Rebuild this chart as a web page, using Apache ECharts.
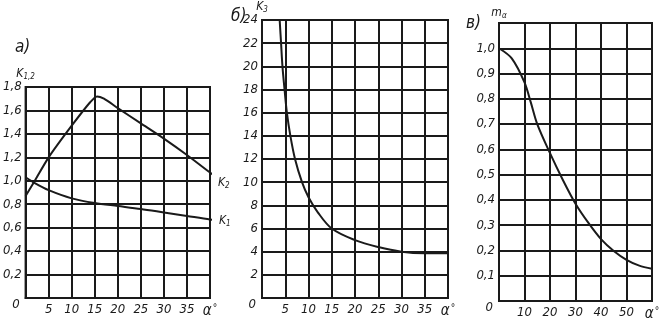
<!DOCTYPE html>
<html><head><meta charset="utf-8">
<script src="https://cdn.jsdelivr.net/npm/echarts@6/dist/echarts.min.js"></script>
<style>html,body{margin:0;padding:0;background:#fff}#c{width:668px;height:326px}</style>
</head><body><div id="c"></div>
<script>
// Panel а): K1 and K2 versus α°
const k1Data = [[0,1.03],[2,0.98],[5,0.92],[10,0.85],[15,0.81],[20,0.785],[25,0.76],[30,0.73],[35,0.70],[40,0.67],[41.5,0.665]];
const k2Data = [[0,0.87],[2,1.0],[5,1.2],[10,1.47],[14,1.67],[15.5,1.72],[17,1.7],[20,1.62],[25,1.49],[30,1.36],[35,1.22],[40,1.07],[41.5,1.03]];
// Panel б): K3 versus α°
const k3Data = [[3.8,24],[4.1,22],[4.4,20],[4.85,18],[5.35,16],[6.1,14],[7.1,12],[8.6,10],[10,8.7],[12,7.4],[15,6.0],[20,5.0],[25,4.4],[30,4.0],[35,3.87],[40,3.87]];
// Panel в): mα versus α°
const mData = [[0,1.0],[5,0.96],[10,0.865],[12.5,0.785],[15,0.70],[20,0.585],[25,0.48],[30,0.385],[35,0.31],[40,0.245],[45,0.198],[50,0.163],[55,0.14],[60,0.128]];
const panelTitles = ['а)', 'б)', 'в)'];

const FONT = "'Liberation Sans Narrow','DejaVu Sans Condensed','Liberation Sans',sans-serif";
const INK = '#1a1a1a';
const lab = {fontFamily: FONT, fontStyle: 'italic', fontSize: 13, color: INK};
const rich = {
  a: {fontFamily: FONT, fontStyle: 'italic', fontSize: 15, color: INK},
  d: {fontFamily: FONT, fontSize: 10, color: INK, verticalAlign: 'top', padding: [0,0,6,1]},
  z: {fontFamily: FONT, fontStyle: 'italic', fontSize: 13, color: INK, padding: [14, 2, 0, 0]},
  k: {fontFamily: FONT, fontStyle: 'italic', fontSize: 12, color: INK},
  s: {fontFamily: FONT, fontStyle: 'italic', fontSize: 8, color: INK, padding: [6,0,0,0]}
};
const line = {lineStyle: {color: INK, width: 2}};

function xAxis(i, max, step) {
  return {
    gridIndex: i, type: 'value', min: 0, max: max, interval: step,
    axisLine: {show: true, onZero: false, lineStyle: {color: INK, width: 2}},
    axisTick: {show: false},
    splitLine: {show: true, lineStyle: {color: INK, width: 2}},
    axisLabel: Object.assign({}, lab, {margin: 5, showMaxLabel: true, showMinLabel: true, hideOverlap: false, rich: rich,
      formatter: v => v === 0 ? '' : (v === max ? '{a|α}{d|°}' : String(v))})
  };
}
function yAxis(i, max, step, fmt, name) {
  return {
    gridIndex: i, type: 'value', min: 0, max: max, interval: step,
    name: name, nameLocation: 'end', nameGap: 3,
    nameTextStyle: {rich: rich, align: 'center'},
    axisLine: {show: true, onZero: false, lineStyle: {color: INK, width: 2}},
    axisTick: {show: false},
    splitLine: {show: true, lineStyle: {color: INK, width: 2}},
    axisLabel: Object.assign({}, lab, {margin: 4, showMaxLabel: true, showMinLabel: true, hideOverlap: false, rich: rich,
      formatter: v => Math.abs(v) < 1e-9 ? '{z|0}' : fmt(v)})
  };
}
const comma = v => v.toFixed(1).replace('.', ',');
const tStyle = {fontFamily: FONT, fontStyle: 'italic', fontWeight: 'normal', fontSize: 17, color: INK};

const option = {
  animation: false,
  title: [
    {text: panelTitles[0], left: 10, top: 34, textStyle: tStyle},
    {text: panelTitles[1], left: 226, top: 3, textStyle: tStyle},
    {text: panelTitles[2], left: 461, top: 10, textStyle: tStyle}
  ],
  grid: [
    {left: 22, top: 87, width: 188, height: 211, show: true, borderColor: INK, borderWidth: 2, containLabel: false},
    {left: 262, top: 20, width: 186, height: 278, show: true, borderColor: INK, borderWidth: 2, containLabel: false},
    {left: 499, top: 23, width: 153, height: 278, show: true, borderColor: INK, borderWidth: 2, containLabel: false}
  ],
  xAxis: [xAxis(0, 40, 5), xAxis(1, 40, 5), xAxis(2, 60, 10)],
  yAxis: [
    yAxis(0, 1.8, 0.2, comma, '{k|K}{s|1,2}'),
    yAxis(1, 24, 2, v => String(v), '{k|K}{s|3}'),
    yAxis(2, 1.1, 0.1, v => (v > 1.05 ? '' : comma(v)), '{k|m}{s|α}')
  ],
  series: [
    {type: 'line', xAxisIndex: 0, yAxisIndex: 0, data: k1Data, smooth: 0.3, showSymbol: false, clip: false, ...line,
      endLabel: {show: true, formatter: '{k|K}{s|1}', rich: rich, offset: [4, 1], distance: 3}},
    {type: 'line', xAxisIndex: 0, yAxisIndex: 0, data: k2Data, smooth: 0.25, showSymbol: false, clip: false, ...line,
      endLabel: {show: true, formatter: '{k|K}{s|2}', rich: rich, offset: [3, 9], distance: 3}},
    {type: 'line', xAxisIndex: 1, yAxisIndex: 1, data: k3Data, smooth: 0.35, showSymbol: false, clip: true, ...line},
    {type: 'line', xAxisIndex: 2, yAxisIndex: 2, data: mData, smooth: 0.3, showSymbol: false, clip: true, ...line}
  ]
};
const chart = echarts.init(document.getElementById('c'), null, {renderer: 'canvas'});
chart.setOption(option);
</script></body></html>
